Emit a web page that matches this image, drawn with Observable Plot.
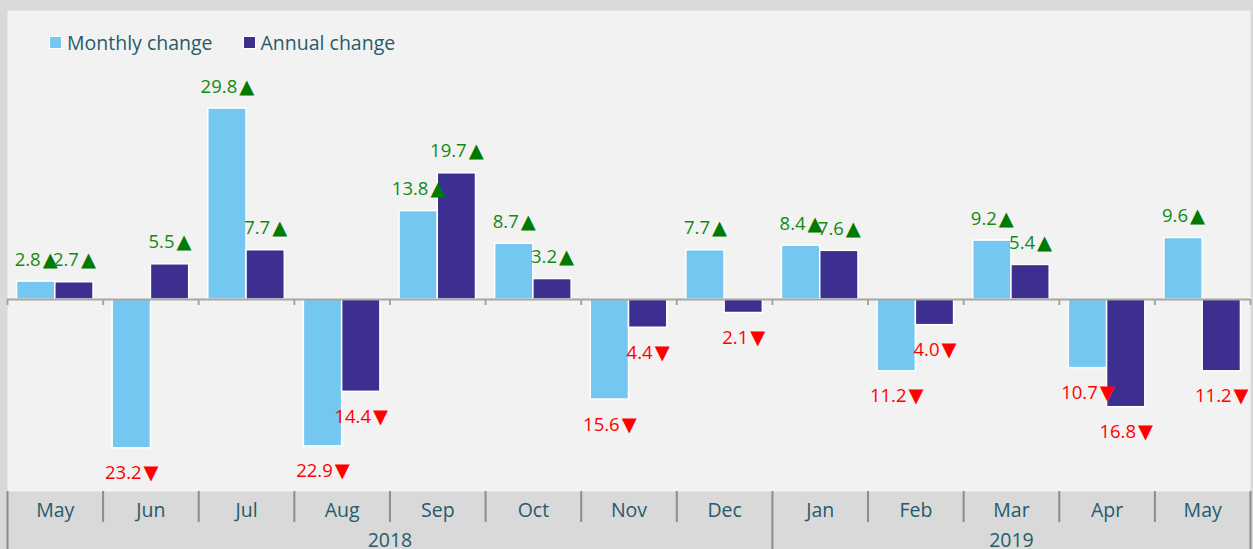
<!DOCTYPE html>
<html>
<head>
<meta charset="utf-8">
<script src="https://cdn.jsdelivr.net/npm/d3@7"></script>
<script src="https://cdn.jsdelivr.net/npm/@observablehq/plot@0.6"></script>
<style>
  html, body { margin: 0; padding: 0; background: #d9d9d9; }
  #wrap { position: relative; width: 1253px; height: 549px; overflow: hidden; }
  #legend { position: absolute; left: 49px; top: 29px; font-family: "Open Sans", sans-serif; font-size: 19.5px; color: #265b6c; display: flex; gap: 30px; }
  #legend span.sw { display: inline-block; width: 11px; height: 11px; border: 1px solid #fff; margin-right: 5px; vertical-align: 1px; }
</style>
</head>
<body>
<div id="wrap"><div id="legend"></div></div>
<script>
const months = ["May","Jun","Jul","Aug","Sep","Oct","Nov","Dec","Jan","Feb","Mar","Apr","May"];
const years = ["2018","2018","2018","2018","2018","2018","2018","2018","2019","2019","2019","2019","2019"];
const monthly = [2.8, -23.2, 29.8, -22.9, 13.8, 8.7, -15.6, 7.7, 8.4, -11.2, 9.2, -10.7, 9.6];
const annual = [2.7, 5.5, 7.7, -14.4, 19.7, 3.2, -4.4, -2.1, 7.6, -4.0, 5.4, -16.8, -11.2];
const seriesNames = ["Monthly change", "Annual change"];
const seriesColors = ["#74c7f0", "#3c2f8f"];

const bars = [];
months.forEach((m, i) => {
  bars.push({i, series: seriesNames[0], v: monthly[i], x1: i + 0.1, x2: i + 0.5});
  bars.push({i, series: seriesNames[1], v: annual[i], x1: i + 0.5, x2: i + 0.9});
});
const monthData = months.map((m, i) => ({m, x: i + 0.5}));
const yearGroups = d3.groups(years.map((y, i) => ({y, i})), d => d.y)
  .map(([y, arr]) => ({y, x: (arr[0].i + arr[arr.length - 1].i + 1) / 2}));
const bounds = d3.range(1, months.length);
const yearBounds = bounds.filter(b => years[b] !== years[b - 1]);
const monthBounds = bounds.filter(b => years[b] === years[b - 1]);

// pixel-adjust helper for rule lines
const lineRender = (f) => (index, scales, values, dims, ctx, next) => {
  const g = next(index, scales, values, dims, ctx);
  d3.select(g).selectAll("line").each(function() { f(d3.select(this), dims, scales); });
  return g;
};

const font = '"Open Sans", sans-serif';
const chart = Plot.plot({
  width: 1253,
  height: 549,
  marginLeft: 7,
  marginRight: 3,
  marginTop: 10,
  marginBottom: 58,
  style: {background: "#d9d9d9", fontFamily: font},
  x: {type: "linear", domain: [0, months.length], axis: null},
  y: {type: "linear", domain: [-29.95, 45.1], axis: null},
  color: {domain: seriesNames, range: seriesColors},
  marks: [
    Plot.frame({fill: "#f2f2f2", stroke: null}),
    Plot.rectY(bars, {x1: "x1", x2: "x2", y1: 0, y2: "v", fill: "series", stroke: "white", strokeWidth: 1.5}),
    Plot.ruleY([0], {stroke: "#a6a6a6", strokeWidth: 2}),
    // small ticks below the zero line at category boundaries
    Plot.ruleX(d3.range(0, months.length + 1), {x: d => d, stroke: "#a6a6a6", strokeWidth: 2,
      render: lineRender((l, dims, scales) => { const y0 = scales.y(0); l.attr("y1", y0).attr("y2", y0 + 6); })}),
    // value labels
    Plot.text(bars, {
      x: d => (d.x1 + d.x2) / 2, y: "v",
      text: d => d.v >= 0 ? `${d3.format(".1f")(d.v)}▲` : `${d3.format(".1f")(-d.v)}▼`,
      fill: d => d.v >= 0 ? "#138a13" : "#ff0000",
      fontSize: 18.5,
      lineAnchor: "bottom",
      render: (index, scales, values, dims, ctx, next) => {
        const g = next(index, scales, values, dims, ctx);
        d3.select(g).selectAll("text").each(function(_, k) {
          const d = bars[index[k]];
          const t = d3.select(this);
          t.attr("transform", null).attr("dy", null)
            .attr("x", values.x[index[k]])
            .attr("y", values.y[index[k]] + (d.v >= 0 ? -16 : 31));
          const s = t.text();
          t.text(null);
          t.append("tspan").text(s.slice(0, -1));
          t.append("tspan").attr("dx", 2).attr("font-family", "DejaVu Sans").attr("font-size", 19.5)
            .attr("fill", d.v >= 0 ? "#007a00" : "#ff0000").text(s.slice(-1));
        });
        return g;
      }
    }),
    // month ticks in axis band
    Plot.ruleX(monthBounds, {x: d => d, stroke: "#8c8c8c", strokeWidth: 2,
      render: lineRender((l, dims) => l.attr("y1", dims.height - dims.marginBottom).attr("y2", dims.height - dims.marginBottom + 31))}),
    Plot.ruleX([0, ...yearBounds, months.length], {x: d => d, stroke: "#8c8c8c", strokeWidth: 2,
      render: lineRender((l, dims) => l.attr("y1", dims.height - dims.marginBottom).attr("y2", dims.height))}),
    Plot.text(monthData, {x: "x", text: "m", frameAnchor: "bottom", dy: 19, fill: "#265b6c", fontSize: 19.5, lineAnchor: "middle"}),
    Plot.text(yearGroups, {x: "x", text: "y", frameAnchor: "bottom", dy: 49, fill: "#265b6c", fontSize: 19.5, lineAnchor: "middle"})
  ]
});
document.getElementById("wrap").prepend(chart);
const legend = document.getElementById("legend");
seriesNames.forEach((s, k) => {
  const item = document.createElement("div");
  item.innerHTML = `<span class="sw" style="background:${seriesColors[k]}"></span>${s}`;
  legend.appendChild(item);
});
</script>
</body>
</html>
